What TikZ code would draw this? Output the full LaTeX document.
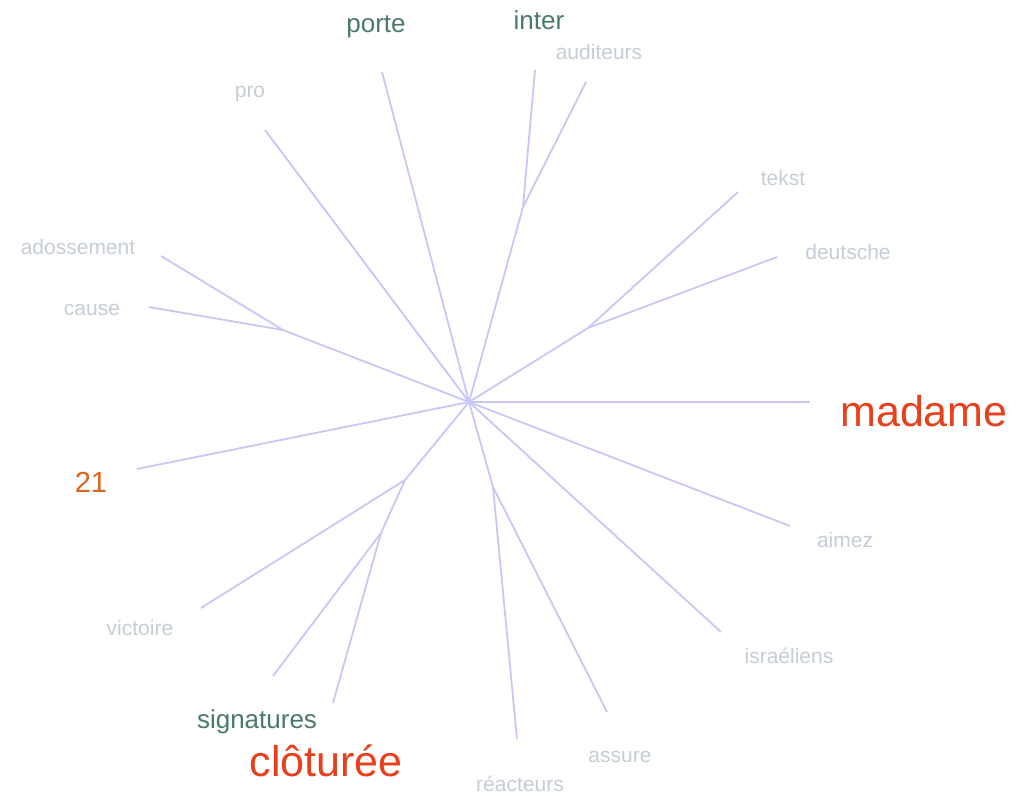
\documentclass[tikz,border=0pt]{standalone}
\usepackage{fontspec}
\setmainfont{Liberation Sans}
\definecolor{edgec}{HTML}{C8C8F6}
\definecolor{lightc}{HTML}{C6CDD6}
\definecolor{tealc}{HTML}{4A7A6C}
\definecolor{redc}{HTML}{E8401C}
\definecolor{orangec}{HTML}{D9661E}
\begin{document}
\begin{tikzpicture}[x=1pt,y=-1pt,
  edge/.style={draw=edgec,line width=1.8pt},
  lbl/.style={anchor=base,inner sep=0pt,text=lightc,font=\fontsize{21}{25}\selectfont},
  tlbl/.style={anchor=base,inner sep=0pt,text=tealc,font=\fontsize{26}{30}\selectfont},
  rlbl/.style={anchor=base,inner sep=0pt,text=redc,font=\fontsize{43}{50}\selectfont},
  olbl/.style={anchor=base,inner sep=0pt,text=orangec,font=\fontsize{29}{34}\selectfont}]
\useasboundingbox[fill=white] (0,0) rectangle (1025,795);
% internal nodes
\coordinate (c) at (469,402);
\coordinate (fi) at (523,207);
\coordinate (ft) at (588,328);
\coordinate (fa) at (283,330);
\coordinate (fv) at (405,480);
\coordinate (fs) at (381,533);
\coordinate (fr) at (493,487);
% leaves
\coordinate (lporte) at (382,72);
\coordinate (linter) at (535,70);
\coordinate (laud) at (586,82);
\coordinate (lpro) at (265,130);
\coordinate (lados) at (161,256);
\coordinate (lcause) at (149,307);
\coordinate (l21) at (137,469);
\coordinate (lvict) at (201,608);
\coordinate (lsign) at (273,676);
\coordinate (lclot) at (333,703);
\coordinate (lreac) at (517,739);
\coordinate (lass) at (607,712);
\coordinate (lisr) at (721,632);
\coordinate (laim) at (790,526);
\coordinate (lmad) at (810,402);
\coordinate (ltek) at (738,192);
\coordinate (ldeu) at (777,257);
% edges
\draw[edge] (c) -- (lporte);
\draw[edge] (c) -- (fi);
\draw[edge] (fi) -- (linter);
\draw[edge] (fi) -- (laud);
\draw[edge] (c) -- (lpro);
\draw[edge] (c) -- (fa);
\draw[edge] (fa) -- (lados);
\draw[edge] (fa) -- (lcause);
\draw[edge] (c) -- (l21);
\draw[edge] (c) -- (fv);
\draw[edge] (fv) -- (lvict);
\draw[edge] (fv) -- (fs);
\draw[edge] (fs) -- (lsign);
\draw[edge] (fs) -- (lclot);
\draw[edge] (c) -- (fr);
\draw[edge] (fr) -- (lreac);
\draw[edge] (fr) -- (lass);
\draw[edge] (c) -- (lisr);
\draw[edge] (c) -- (laim);
\draw[edge] (c) -- (lmad);
\draw[edge] (c) -- (ft);
\draw[edge] (ft) -- (ltek);
\draw[edge] (ft) -- (ldeu);
% labels
\node[tlbl] (tporte) at (376,32) {porte};
\node[tlbl] (tinter) at (539,29) {inter};
\node[lbl] (taud) at (599,59) {auditeurs};
\node[lbl] (tpro) at (250,97) {pro};
\node[lbl] (tados) at (78,254) {adossement};
\node[lbl] (tcause) at (92,315) {cause};
\node[olbl] (t21) at (91,492) {21};
\node[lbl] (tvict) at (140,635) {victoire};
\node[tlbl] (tsign) at (257,728) {signatures};
\node[rlbl] (tclot) at (326,776) {clôturée};
\node[lbl] (treac) at (520,791) {réacteurs};
\node[lbl] (tass) at (620,762) {assure};
\node[lbl] (tisr) at (789,663) {israéliens};
\node[lbl] (taim) at (845,547) {aimez};
\node[rlbl] (tmad) at (924,426) {madame};
\node[lbl] (ttek) at (783,185) {tekst};
\node[lbl] (tdeu) at (848,259) {deutsche};
\end{tikzpicture}
\end{document}
